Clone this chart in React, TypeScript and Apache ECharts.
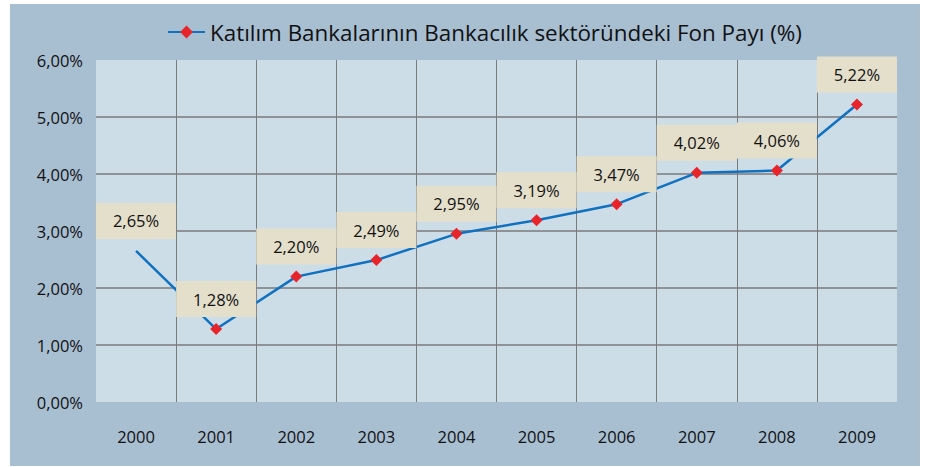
import React, { useEffect, useRef } from "react";
import * as echarts from "echarts";

const years = ["2000", "2001", "2002", "2003", "2004", "2005", "2006", "2007", "2008", "2009"];
const fundShare = [2.65, 1.28, 2.2, 2.49, 2.95, 3.19, 3.47, 4.02, 4.06, 5.22];
const seriesName = "Katılım Bankalarının Bankacılık sektöründeki Fon Payı (%)";

const fmt = (v: number) => v.toFixed(2).replace(".", ",") + "%";
const FONT = "Open Sans";
const FS = 16.5;

export default function App() {
  const ref = useRef<HTMLDivElement>(null);
  useEffect(() => {
    if (!ref.current) return;
    const chart = echarts.init(ref.current, null, { renderer: "svg" });
    chart.setOption({
      animation: false,
      backgroundColor: "#ffffff",
      textStyle: { fontFamily: FONT },
      graphic: [
        {
          type: "rect",
          z: -10,
          silent: true,
          shape: { x: 10, y: 4, width: 910, height: 462 },
          style: { fill: "#a8bed1" },
        },
      ],
      legend: {
        top: 16,
        left: 162,
        itemWidth: 37,
        itemHeight: 16,
        itemGap: 5,
        textStyle: { fontSize: 22.4, color: "#111111", fontFamily: FONT },
        data: [seriesName],
      },
      grid: {
        left: 96,
        top: 60,
        width: 801,
        height: 342,
        show: true,
        backgroundColor: "#cddde7",
        borderWidth: 0,
        containLabel: false,
      },
      xAxis: {
        type: "category",
        data: years,
        boundaryGap: true,
        axisLine: { show: false },
        axisTick: { show: false },
        axisLabel: { margin: 26, fontSize: FS, color: "#111111", fontFamily: FONT, interval: 0 },
        splitLine: {
          show: true,
          interval: 0,
          showMinLine: false,
          showMaxLine: false,
          lineStyle: { color: "#7a7a7a", width: 1 },
        },
      },
      yAxis: {
        type: "value",
        min: 0,
        max: 6,
        interval: 1,
        axisLine: { show: false },
        axisTick: { show: false },
        axisLabel: { margin: 13, fontSize: FS, color: "#111111", fontFamily: FONT, formatter: (v: number) => fmt(v) },
        splitLine: {
          show: true,
          showMinLine: false,
          showMaxLine: false,
          lineStyle: { color: "#7a7a7a", width: 1.5 },
        },
      },
      series: [
        {
          name: seriesName,
          type: "line",
          data: fundShare.map((v, i) =>
            i === 0 ? { value: v, itemStyle: { color: "transparent" } } : v
          ),
          symbol: "diamond",
          symbolSize: 12,
          showAllSymbol: true,
          lineStyle: { color: "#1071c1", width: 2.5 },
          itemStyle: { color: "#e8242b" },
          label: {
            show: true,
            position: "top",
            distance: 6,
            formatter: (p: any) => fmt(p.value),
            backgroundColor: "#e3dfcb",
            width: 80,
            height: 36,
            lineHeight: 36,
            padding: 0,
            align: "center",
            fontSize: FS,
            color: "#111111",
            fontFamily: FONT,
          },
        },
      ],
    });
    return () => chart.dispose();
  }, []);
  return (
    <div
      ref={ref}
      style={{ position: "absolute", left: 0, top: 0, width: 928, height: 467 }}
    />
  );
}
